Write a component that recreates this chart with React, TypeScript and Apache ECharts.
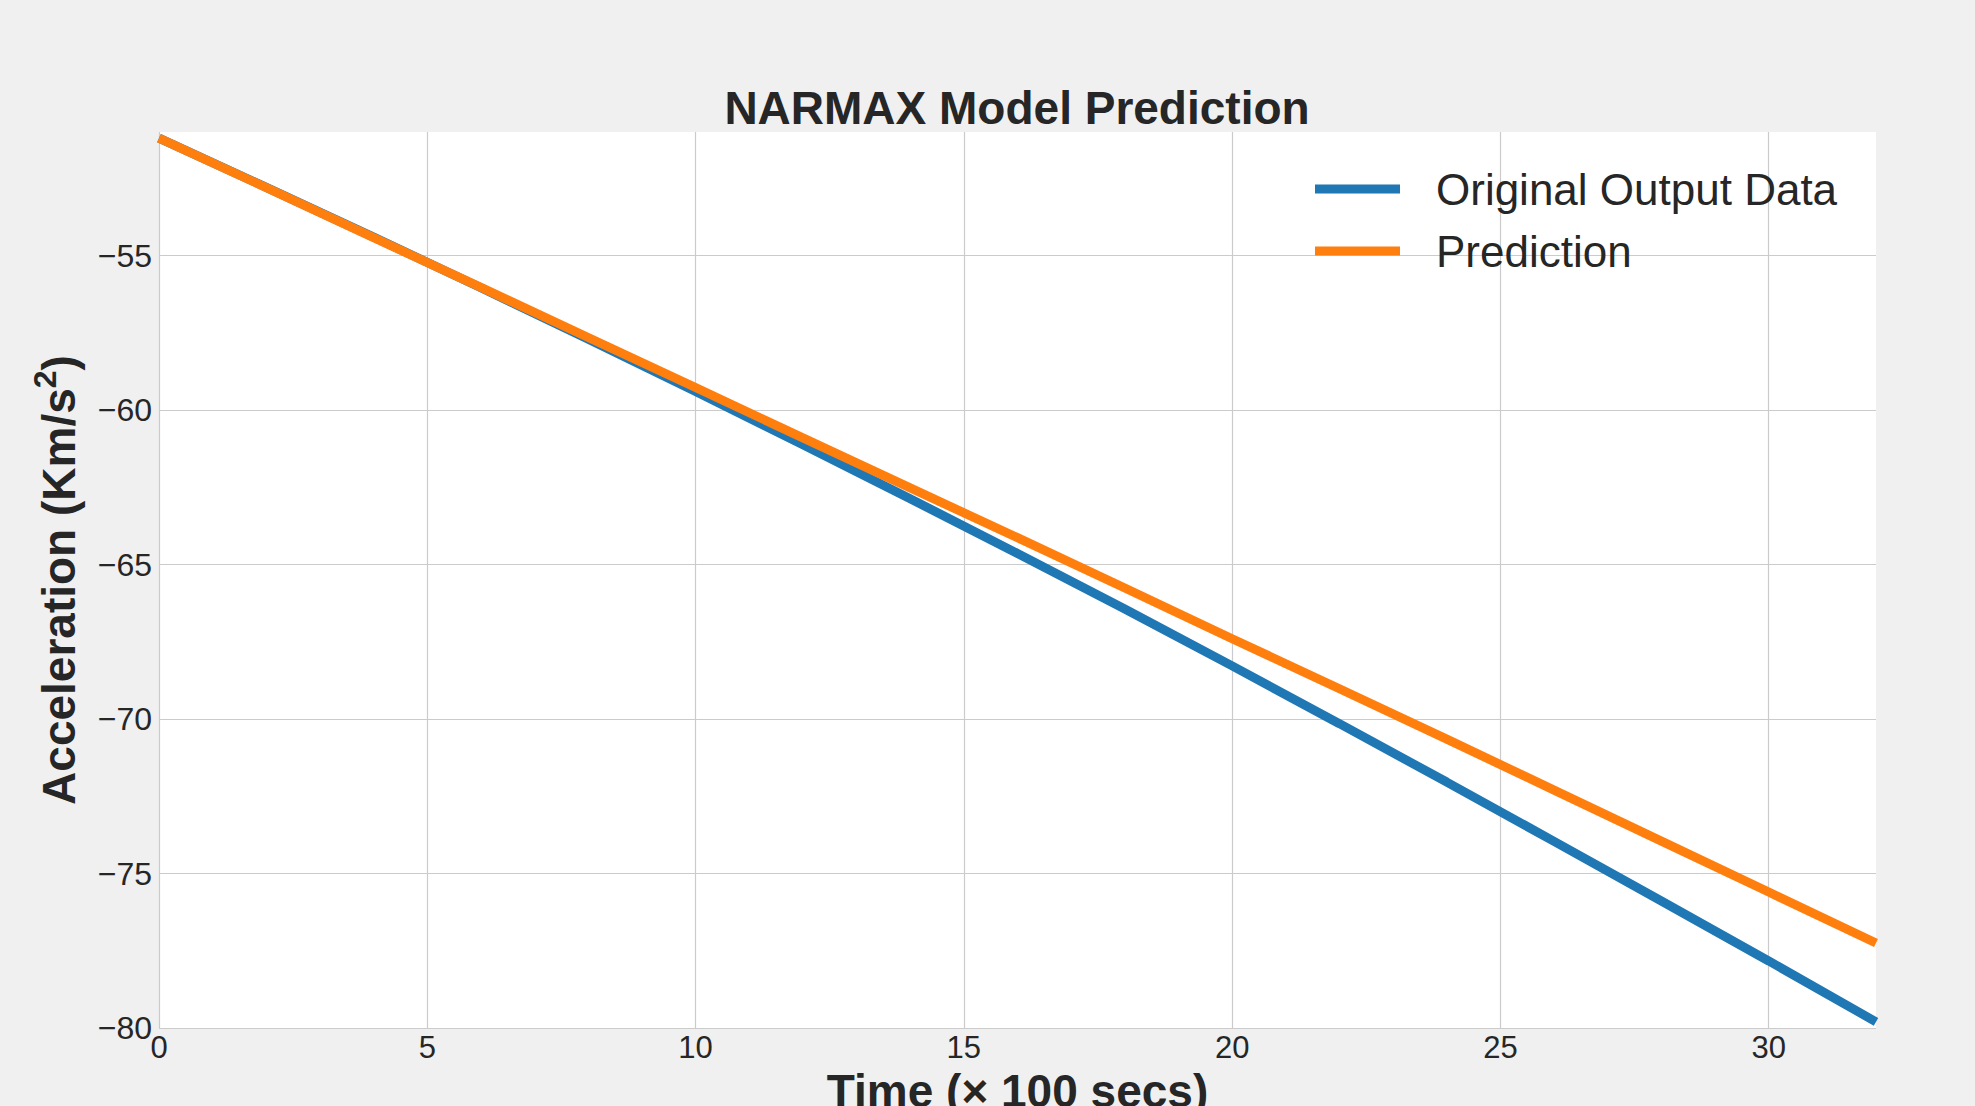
import React, { useEffect, useRef } from "react";
import * as echarts from "echarts";

const xValues = [0, 2, 4, 6, 8, 10, 12, 14, 16, 18, 20, 22, 24, 26, 28, 30, 32];
const originalOutput = [
  -51.2, -52.79, -54.4, -56.04, -57.71, -59.4, -61.12, -62.87, -64.64, -66.44,
  -68.28, -70.15, -72.04, -73.96, -75.89, -77.83, -79.8,
];
const prediction = [
  -51.2, -52.8, -54.42, -56.03, -57.65, -59.27, -60.9, -62.52, -64.13, -65.76,
  -67.4, -69.02, -70.65, -72.3, -73.95, -75.6, -77.25,
];
const seriesNames = ["Original Output Data", "Prediction"];
const titleText = "NARMAX Model Prediction";
const xAxisName = "Time (\u00d7 100 secs)";

const FONT = "'Liberation Sans', Arial, sans-serif";
const TEXT = "#262626";

const fmt = (v: number) => (v < 0 ? "\u2212" + Math.abs(v) : String(v));

export default function App() {
  const ref = useRef<HTMLDivElement>(null);
  useEffect(() => {
    if (!ref.current) return;
    const chart = echarts.init(ref.current, undefined, { renderer: "svg" });
    const blueData = xValues.map((x, i) => [x, originalOutput[i]]);
    const orangeData = xValues.map((x, i) => [x, prediction[i]]);
    chart.setOption({
      animation: false,
      backgroundColor: "#f0f0f0",
      textStyle: { fontFamily: FONT },
      title: {
        text: titleText,
        left: 1012,
        top: 80,
        textAlign: "center",
        textStyle: { fontSize: 46, fontWeight: "bold", color: TEXT, fontFamily: FONT },
      },
      legend: {
        orient: "vertical",
        left: 1310,
        top: 162,
        itemWidth: 85,
        itemHeight: 9,
        itemGap: 18,
        icon: "rect",
        textStyle: { fontSize: 44, color: TEXT, fontFamily: FONT, padding: [0, 0, 0, 31] },
        data: seriesNames,
      },
      grid: {
        left: 159,
        right: 99,
        top: 132,
        bottom: 78,
        containLabel: false,
        outerBoundsMode: "none",
        show: true,
        backgroundColor: "#ffffff",
        borderWidth: 0,
      },
      xAxis: {
        type: "value",
        min: 0,
        max: 32,
        interval: 5,
        name: xAxisName,
        nameLocation: "middle",
        nameGap: 36,
        nameTextStyle: { fontSize: 46, fontWeight: "bold", color: TEXT, fontFamily: FONT },
        axisLine: { show: false },
        axisTick: { show: false },
        axisLabel: {
          fontSize: 31,
          color: TEXT,
          fontFamily: FONT,
          margin: 4,
          showMaxLabel: false,
          formatter: fmt,
        },
        splitLine: { show: true, showMaxLine: false, lineStyle: { color: "#cbcbcb", width: 1.2 } },
      },
      yAxis: {
        type: "value",
        min: -80,
        max: -51,
        interval: 5,
        name: "{a|Acceleration (Km/s}{sup|2}{a|)}",
        nameLocation: "middle",
        nameGap: 70,
        nameRotate: 90,
        nameTextStyle: {
          fontSize: 46,
          fontWeight: "bold",
          color: TEXT,
          fontFamily: FONT,
          rich: {
            a: { fontSize: 46, fontWeight: "bold", color: TEXT, fontFamily: FONT, lineHeight: 60 },
            sup: {
              fontSize: 32,
              color: TEXT,
              fontFamily: FONT,
              verticalAlign: "top",
              lineHeight: 32,
            },
          },
        },
        axisLine: { show: false },
        axisTick: { show: false },
        axisLabel: {
          fontSize: 32,
          color: TEXT,
          fontFamily: FONT,
          margin: 7,
          showMaxLabel: false,
          formatter: fmt,
        },
        splitLine: { show: true, showMaxLine: false, lineStyle: { color: "#cbcbcb", width: 1.2 } },
      },
      series: [
        {
          name: seriesNames[0],
          type: "line",
          data: blueData,
          showSymbol: false,
          symbol: "none",
          lineStyle: { color: "#1f77b4", width: 9 },
          itemStyle: { color: "#1f77b4" },
          z: 2,
        },
        {
          name: seriesNames[1],
          type: "line",
          data: orangeData,
          showSymbol: false,
          symbol: "none",
          lineStyle: { color: "#ff7f0e", width: 9 },
          itemStyle: { color: "#ff7f0e" },
          z: 3,
        },
      ],
    });
    return () => chart.dispose();
  }, []);
  return (
    <div
      ref={ref}
      style={{ position: "absolute", left: 0, top: 0, width: 1975, height: 1106 }}
    />
  );
}
